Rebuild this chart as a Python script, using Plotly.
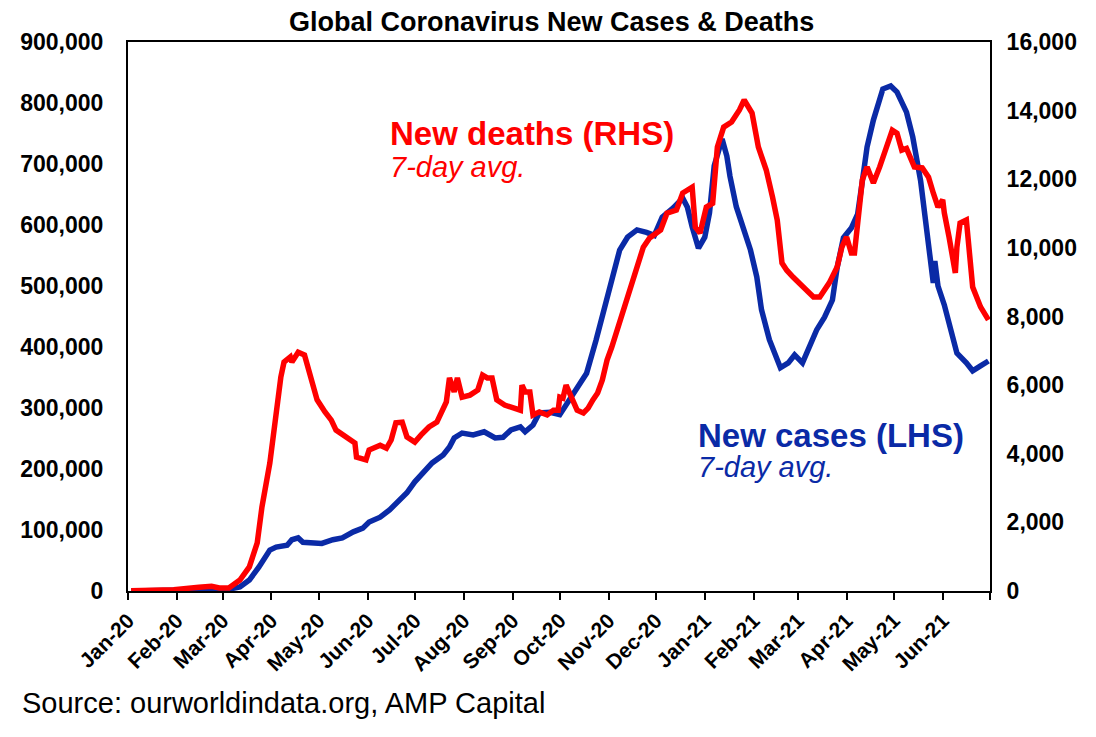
import plotly.graph_objects as go

# new cases, 7-day avg (LHS)
case_dates = ['2020-01-03', '2020-01-25', '2020-02-08', '2020-02-15', '2020-02-25', '2020-03-05',
              '2020-03-12', '2020-03-18', '2020-03-24', '2020-03-31', '2020-04-04', '2020-04-11',
              '2020-04-14', '2020-04-18', '2020-04-21', '2020-04-30', '2020-05-03', '2020-05-10',
              '2020-05-16', '2020-05-23', '2020-05-29', '2020-06-02', '2020-06-09', '2020-06-15',
              '2020-06-19', '2020-06-26', '2020-07-01', '2020-07-06', '2020-07-12', '2020-07-19',
              '2020-07-23', '2020-07-26', '2020-07-31', '2020-08-07', '2020-08-14', '2020-08-21',
              '2020-08-26', '2020-08-31', '2020-09-06', '2020-09-09', '2020-09-14', '2020-09-18',
              '2020-09-25', '2020-10-01', '2020-10-06', '2020-10-12', '2020-10-18', '2020-10-24',
              '2020-10-31', '2020-11-05', '2020-11-08', '2020-11-13', '2020-11-19', '2020-11-25',
              '2020-11-30', '2020-12-05', '2020-12-12', '2020-12-18', '2020-12-21', '2020-12-24',
              '2020-12-28', '2021-01-01', '2021-01-04', '2021-01-07', '2021-01-12', '2021-01-15',
              '2021-01-17', '2021-01-21', '2021-01-25', '2021-01-30', '2021-02-03', '2021-02-06',
              '2021-02-11', '2021-02-18', '2021-02-23', '2021-02-27', '2021-03-04', '2021-03-09',
              '2021-03-13', '2021-03-18', '2021-03-23', '2021-03-26', '2021-03-30', '2021-04-04',
              '2021-04-08', '2021-04-11', '2021-04-14', '2021-04-18', '2021-04-24', '2021-04-29',
              '2021-05-03', '2021-05-09', '2021-05-13', '2021-05-18', '2021-05-21', '2021-05-24',
              '2021-05-26', '2021-05-27', '2021-05-29', '2021-06-02', '2021-06-05', '2021-06-10',
              '2021-06-16', '2021-06-20', '2021-06-25', '2021-06-30']
case_vals = [100, 1000, 2800, 3000, 1500, 3000,
             6500, 18000, 39000, 67000, 72000, 75000,
             84000, 87000, 80000, 79000, 78000, 84000,
             87000, 97000, 103000, 113000, 121000, 133000,
             144000, 161000, 179000, 193000, 210000, 223000,
             236000, 251000, 259000, 256000, 261000, 251000,
             252000, 264000, 269000, 261000, 272000, 292000,
             293000, 289000, 310000, 333000, 357000, 411000,
             482000, 534000, 559000, 580000, 592000, 588000,
             583000, 613000, 628000, 644000, 629000, 597000,
             562000, 580000, 620000, 697000, 741000, 713000,
             680000, 630000, 597000, 559000, 515000, 461000,
             412000, 366000, 374000, 387000, 374000, 407000,
             428000, 449000, 477000, 530000, 579000, 595000,
             618000, 672000, 728000, 772000, 823000, 828000,
             818000, 785000, 744000, 672000, 610000, 550000,
             505000, 541000, 500000, 469000, 436000, 390000,
             374000, 361000, 369000, 377000]

# new deaths, 7-day avg (RHS)
death_dates = ['2020-01-03', '2020-01-30', '2020-02-15', '2020-02-23', '2020-02-28', '2020-03-05',
               '2020-03-12', '2020-03-18', '2020-03-23', '2020-03-26', '2020-03-31', '2020-04-04',
               '2020-04-07', '2020-04-09', '2020-04-13', '2020-04-14', '2020-04-18', '2020-04-22',
               '2020-04-24', '2020-04-27', '2020-04-30', '2020-05-05', '2020-05-09', '2020-05-12',
               '2020-05-19', '2020-05-24', '2020-05-25', '2020-05-29', '2020-05-31', '2020-06-02',
               '2020-06-09', '2020-06-13', '2020-06-16', '2020-06-19', '2020-06-23', '2020-06-26',
               '2020-07-01', '2020-07-05', '2020-07-10', '2020-07-15', '2020-07-18', '2020-07-21',
               '2020-07-23', '2020-07-26', '2020-07-28', '2020-07-31', '2020-08-05', '2020-08-10',
               '2020-08-13', '2020-08-16', '2020-08-19', '2020-08-22', '2020-08-27', '2020-09-04',
               '2020-09-06', '2020-09-07', '2020-09-09', '2020-09-12', '2020-09-14', '2020-09-18',
               '2020-09-23', '2020-09-27', '2020-09-30', '2020-10-01', '2020-10-03', '2020-10-05',
               '2020-10-07', '2020-10-12', '2020-10-16', '2020-10-19', '2020-10-22', '2020-10-25',
               '2020-10-28', '2020-10-31', '2020-11-03', '2020-11-10', '2020-11-19', '2020-11-23',
               '2020-11-27', '2020-12-04', '2020-12-08', '2020-12-14', '2020-12-18', '2020-12-24',
               '2020-12-26', '2020-12-29', '2021-01-02', '2021-01-06', '2021-01-09', '2021-01-13',
               '2021-01-18', '2021-01-23', '2021-01-26', '2021-01-31', '2021-02-04', '2021-02-09',
               '2021-02-13', '2021-02-16', '2021-02-19', '2021-02-22', '2021-02-26', '2021-03-04',
               '2021-03-11', '2021-03-15', '2021-03-21', '2021-03-26', '2021-03-29', '2021-04-01',
               '2021-04-04', '2021-04-06', '2021-04-11', '2021-04-14', '2021-04-18', '2021-04-22',
               '2021-04-26', '2021-04-30', '2021-05-03', '2021-05-06', '2021-05-09', '2021-05-14',
               '2021-05-19', '2021-05-23', '2021-05-26', '2021-05-29', '2021-06-01', '2021-06-02',
               '2021-06-05', '2021-06-09', '2021-06-10', '2021-06-12', '2021-06-16', '2021-06-17',
               '2021-06-20', '2021-06-25', '2021-06-30']
death_vals = [10, 40, 110, 140, 90, 90,
              320, 700, 1400, 2450, 3730, 5190,
              6240, 6670, 6820, 6670, 6960, 6880,
              6530, 5940, 5570, 5220, 4980, 4690,
              4490, 4310, 3900, 3820, 3820, 4110,
              4250, 4160, 4400, 4900, 4920, 4490,
              4340, 4550, 4780, 4920, 5220, 5510,
              6210, 5800, 6210, 5650, 5710, 5860,
              6290, 6210, 6210, 5570, 5420, 5330,
              5270, 6000, 5800, 5800, 5130, 5220,
              5130, 5270, 5270, 5650, 5620, 6000,
              5770, 5270, 5190, 5330, 5570, 5770,
              6150, 6730, 7110, 8100, 9440, 10020,
              10290, 10520, 11010, 11100, 11600, 11770,
              10600, 10430, 11190, 11300, 12940, 13520,
              13670, 14020, 14310, 13930, 12940, 12270,
              11480, 10810, 9560, 9350, 9150, 8860,
              8570, 8570, 8980, 9440, 10020, 10320,
              9850, 9850, 11980, 12360, 11890, 12360,
              12940, 13430, 13340, 12850, 12900, 12360,
              12330, 12060, 11600, 11190, 11400, 11020,
              10320, 9270, 10020, 10720, 10810, 10230,
              8860, 8280, 7900]

month_ticks = ['2020-01-01', '2020-02-01', '2020-03-01', '2020-04-01', '2020-05-01', '2020-06-01',
               '2020-07-01', '2020-08-01', '2020-09-01', '2020-10-01', '2020-11-01', '2020-12-01',
               '2021-01-01', '2021-02-01', '2021-03-01', '2021-04-01', '2021-05-01', '2021-06-01',
               '2021-07-01']
month_labels = ['Jan-20', 'Feb-20', 'Mar-20', 'Apr-20', 'May-20', 'Jun-20', 'Jul-20', 'Aug-20',
                'Sep-20', 'Oct-20', 'Nov-20', 'Dec-20', 'Jan-21', 'Feb-21', 'Mar-21', 'Apr-21',
                'May-21', 'Jun-21', '']

RED = '#FF0000'
BLUE = '#0A2AA6'
FONT = 'Arial, Liberation Sans, sans-serif'

fig = go.Figure()
fig.add_trace(go.Scatter(x=case_dates, y=case_vals, mode='lines', name='New cases (LHS)',
                         line=dict(color=BLUE, width=5.5), yaxis='y'))
fig.add_trace(go.Scatter(x=death_dates, y=death_vals, mode='lines', name='New deaths (RHS)',
                         line=dict(color=RED, width=5.5), yaxis='y2'))

# page body adds 8px offset, margins compensate
fig.update_layout(
    width=1096, height=737,
    margin=dict(l=120, r=114, t=34, b=154),
    paper_bgcolor='white', plot_bgcolor='white',
    showlegend=False,
    font=dict(family=FONT, color='black'),
    title=dict(text='<b>Global Coronavirus New Cases & Deaths</b>', x=0.496, xref='container',
               xanchor='center', y=0.994, yanchor='top', pad=dict(t=0, b=0),
               font=dict(size=27, color='black')),
    xaxis=dict(type='date', range=['2020-01-01', '2021-07-01'], tickvals=month_ticks,
               ticktext=month_labels, tickangle=-45, ticks='outside', ticklen=7, tickwidth=1.5,
               tickcolor='black', showline=True, linecolor='black', linewidth=2, mirror=True,
               showgrid=False, zeroline=False,
               tickfont=dict(size=21, family=FONT, color='black', weight='bold')),
    yaxis=dict(range=[0, 900000], dtick=100000, tickformat=',d', showgrid=False, zeroline=False,
               showline=True, linecolor='black', linewidth=2, ticks='', ticklabelstandoff=18,
               tickfont=dict(size=23, family=FONT, color='black', weight='bold')),
    yaxis2=dict(range=[0, 16000], dtick=2000, tickformat=',d', overlaying='y', side='right',
                showgrid=False, zeroline=False, showline=True, linecolor='black', linewidth=2,
                ticks='', ticklabelstandoff=10,
                tickfont=dict(size=23, family=FONT, color='black', weight='bold')),
)

fig.add_annotation(text='<b>New deaths (RHS)</b>', xref='paper', yref='paper', x=0.302, y=0.833,
                   xanchor='left', yanchor='middle', showarrow=False,
                   font=dict(size=33, color=RED, family=FONT))
fig.add_annotation(text='<i>7-day avg.</i>', xref='paper', yref='paper', x=0.302, y=0.772,
                   xanchor='left', yanchor='middle', showarrow=False,
                   font=dict(size=29, color=RED, family=FONT))
fig.add_annotation(text='<b>New cases (LHS)</b>', xref='paper', yref='paper', x=0.659, y=0.283,
                   xanchor='left', yanchor='middle', showarrow=False,
                   font=dict(size=33, color=BLUE, family=FONT))
fig.add_annotation(text='<i>7-day avg.</i>', xref='paper', yref='paper', x=0.659, y=0.226,
                   xanchor='left', yanchor='middle', showarrow=False,
                   font=dict(size=29, color=BLUE, family=FONT))
fig.add_annotation(text='Source: ourworldindata.org, AMP Capital', xref='paper', yref='paper',
                   x=-0.125, y=-0.204, xanchor='left', yanchor='middle', showarrow=False,
                   font=dict(size=29, color='black', family=FONT))

fig.write_html('out.html')
